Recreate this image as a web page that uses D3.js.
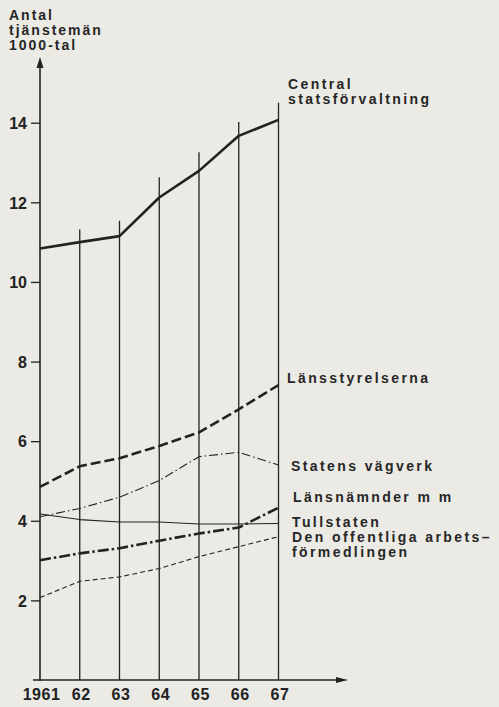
<!DOCTYPE html>
<html>
<head>
<meta charset="utf-8">
<script src="https://cdn.jsdelivr.net/npm/d3@7"></script>
<style>
  body { margin: 0; background: #ebeae5; }
  svg text { font-family: "Liberation Sans", Helvetica, Arial, sans-serif; font-weight: bold; fill: #262626; }
</style>
</head>
<body>
<div id="chart"></div>
<script>
// Data (1000-tal tjänstemän)
var years = [1961, 1962, 1963, 1964, 1965, 1966, 1967];
var yearLabels = ["1961", "62", "63", "64", "65", "66", "67"];
var yTicks = [2, 4, 6, 8, 10, 12, 14];

var central = [10.84, 11.0, 11.15, 12.12, 12.79, 13.67, 14.07];
var lansstyrelserna = [4.85, 5.37, 5.57, 5.88, 6.22, 6.80, 7.41];
var vagverk = [4.10, 4.31, 4.59, 5.01, 5.61, 5.72, 5.40];
var tullstaten = [4.17, 4.03, 3.97, 3.97, 3.92, 3.92, 3.93];
var lansnamnder = [3.01, 3.18, 3.31, 3.50, 3.68, 3.83, 4.33];
var arbetsformedlingen = [2.07, 2.48, 2.59, 2.80, 3.10, 3.35, 3.60];

// hur högt de lodräta linjerna går
var gridTop = [14.9, 11.32, 11.54, 12.63, 13.26, 14.02, 14.5];

var w = 499, h = 707;

var svg = d3.select("#chart")
  .append("svg")
  .attr("width", w)
  .attr("height", h);

// Skalor
var x = d3.scaleLinear()
  .domain([1961, 1967])
  .range([40, 278.5]);

var y = d3.scaleLinear()
  .domain([0, 14])
  .range([680, 122.7]);

var ink = "#222";

// Lodräta linjer per år
svg.selectAll(".vline")
  .data(years.slice(1))
  .enter()
  .append("line")
  .attr("x1", function(d) { return x(d); })
  .attr("x2", function(d) { return x(d); })
  .attr("y1", y(0))
  .attr("y2", function(d, i) { return y(gridTop[i + 1]); })
  .style("stroke", ink)
  .style("stroke-width", 1.3);

// Y-axel
var yAxis = d3.axisLeft(y)
  .tickValues(yTicks)
  .tickSize(9)
  .tickPadding(4);

var gy = svg.append("g")
  .attr("transform", "translate(" + x(1961) + ",0)")
  .call(yAxis);
gy.select(".domain").remove();
gy.selectAll(".tick line").style("stroke", ink).style("stroke-width", 1.3);
gy.selectAll(".tick text")
  .style("font-size", "16px")
  .style("fill", ink)
  .attr("dy", "0.36em");

svg.append("line")
  .attr("x1", x(1961)).attr("x2", x(1961))
  .attr("y1", y(0) + 1).attr("y2", 62)
  .style("stroke", ink)
  .style("stroke-width", 1.6);
svg.append("path")
  .attr("d", d3.line()([[x(1961) - 3.5, 68], [x(1961), 57], [x(1961) + 3.5, 68]]) + "Z")
  .style("fill", ink);

// X-axel
var xAxis = d3.axisBottom(x)
  .tickValues(years)
  .tickSize(0)
  .tickPadding(9)
  .tickFormat(function(d, i) { return yearLabels[i]; });

var gx = svg.append("g")
  .attr("transform", "translate(0," + y(0) + ")")
  .call(xAxis);
gx.select(".domain").remove();
gx.selectAll(".tick text")
  .style("font-size", "16px")
  .style("letter-spacing", "0.5px")
  .style("fill", ink)
  .attr("dx", "1px");

svg.append("line")
  .attr("x1", 33).attr("x2", 340)
  .attr("y1", y(0)).attr("y2", y(0))
  .style("stroke", ink)
  .style("stroke-width", 1.4);
svg.append("path")
  .attr("d", d3.line()([[336, y(0) - 3], [348, y(0)], [336, y(0) + 3]]) + "Z")
  .style("fill", ink);

// Axeltitel
var title = ["Antal", "tjänstemän", "1000-tal"];
svg.selectAll(".ytitle")
  .data(title)
  .enter()
  .append("text")
  .attr("x", 9)
  .attr("y", function(d, i) { return 20 + i * 15; })
  .style("font-size", "14px")
  .style("letter-spacing", "2px")
  .text(function(d) { return d; });

// Serier
var series = [
  { values: central, width: 2.6, dash: null },
  { values: lansstyrelserna, width: 2.6, dash: "10,4" },
  { values: vagverk, width: 1.1, dash: "9,3,1.5,3" },
  { values: tullstaten, width: 1.1, dash: null },
  { values: lansnamnder, width: 2.6, dash: "11,3,2.5,3" },
  { values: arbetsformedlingen, width: 1.1, dash: "5,3" }
];

var line = d3.line()
  .x(function(d, i) { return x(years[i]); })
  .y(function(d) { return y(d); });

svg.selectAll(".serie")
  .data(series)
  .enter()
  .append("path")
  .attr("d", function(d) { return line(d.values); })
  .style("fill", "none")
  .style("stroke", ink)
  .style("stroke-width", function(d) { return d.width; })
  .style("stroke-dasharray", function(d) { return d.dash; })
  .style("stroke-linejoin", "round");

// Etiketter
var labels = [
  { text: "Central", x: 288, y: 89 },
  { text: "statsförvaltning", x: 288, y: 104 },
  { text: "Länsstyrelserna", x: 287, y: 383 },
  { text: "Statens vägverk", x: 291, y: 471 },
  { text: "Länsnämnder m m", x: 293, y: 502 },
  { text: "Tullstaten", x: 292, y: 527 },
  { text: "Den offentliga arbets–", x: 292, y: 542 },
  { text: "förmedlingen", x: 292, y: 557 }
];

svg.selectAll(".lab")
  .data(labels)
  .enter()
  .append("text")
  .attr("x", function(d) { return d.x; })
  .attr("y", function(d) { return d.y; })
  .style("font-size", "14px")
  .style("letter-spacing", "2.4px")
  .text(function(d) { return d.text; });
</script>
</body>
</html>
